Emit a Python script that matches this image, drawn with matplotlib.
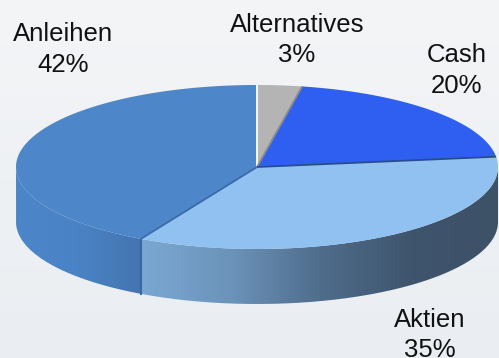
import numpy as np
import matplotlib.pyplot as plt
from matplotlib.path import Path
from matplotlib.patches import PathPatch, Polygon
from matplotlib.colors import LinearSegmentedColormap

# daten des diagramms
labels = ['Alternatives', 'Cash', 'Aktien', 'Anleihen']
values = [3, 20, 35, 42]
pct_labels = ['3%', '20%', '35%', '42%']

# farben (oben / seite, seite von links nach rechts)
top_colors = ['#b4b4b4', '#2f5ff0', '#90c1f1', '#4e87c9']
side_colors = {
    'Aktien': ['#7aa8d2', '#6c93ba', '#4f6d8c', '#3f556d', '#3d5167'],
    'Anleihen': ['#4c86c9', '#4a83c5', '#4574b0'],
}
edge_colors = ['#ffffff', '#8a8a8a', '#2a4c8c', '#3a6aa8']

# position der beschriftungen (mitte x, grundlinie y) in pixeln
label_xy = {'Alternatives': (297, 32, 62), 'Cash': (457, 62, 93),
            'Aktien': (430, 327, 357), 'Anleihen': (63, 41, 72)}

# geometrie des 3d kuchens
cx, cy, a, b, depth = 257, 167, 241, 82, 55

W, H = 499, 358
fig = plt.figure(figsize=(W / 100, H / 100), dpi=100)
ax = fig.add_axes([0, 0, 1, 1])
ax.set_xlim(0, W)
ax.set_ylim(H, 0)
ax.axis('off')

# hintergrund verlauf
bg = LinearSegmentedColormap.from_list('bg', ['#f4f5f7', '#eef1f4', '#eaeef2'])
ax.imshow(np.linspace(0, 1, 200).reshape(-1, 1), extent=[0, W, H, 0],
          cmap=bg, aspect='auto', zorder=0)


def top_pt(t):
    return cx + a * np.sin(t), cy - b * np.cos(t)


# winkel der stuecke (im uhrzeigersinn ab oben)
bounds = np.concatenate([[0], np.cumsum(values)]) / sum(values) * 2 * np.pi

# seitenflaechen (nur vorne sichtbar: 90..270 grad)
for i, lab in enumerate(labels):
    t1 = max(bounds[i], np.pi / 2)
    t2 = min(bounds[i + 1], 3 * np.pi / 2)
    if t2 <= t1:
        continue
    t = np.linspace(t1, t2, 200)
    xs, ys = top_pt(t)
    px = np.concatenate([xs, xs[::-1]])
    py = np.concatenate([ys, ys[::-1] + depth])
    path = Path(np.column_stack([px, py]), closed=False)
    patch = PathPatch(path, facecolor='none', edgecolor='none')
    ax.add_patch(patch)
    cmap = LinearSegmentedColormap.from_list(lab, side_colors[lab])
    grad = np.linspace(0, 1, 256).reshape(1, -1)
    im = ax.imshow(grad, extent=[px.min(), px.max(), py.max(), py.min()],
                   cmap=cmap, aspect='auto', zorder=1)
    im.set_clip_path(patch)

# kante zwischen seitenflaechen
for tb in bounds[1:-1]:
    if np.pi / 2 < tb < 3 * np.pi / 2:
        x0, y0 = top_pt(tb)
        ax.plot([x0, x0], [y0, y0 + depth], color='#3a66a2', lw=1.5, zorder=2)

# oberseite
for i, lab in enumerate(labels):
    t = np.linspace(bounds[i], bounds[i + 1], 200)
    xs, ys = top_pt(t)
    poly = Polygon(np.column_stack([np.r_[cx, xs], np.r_[cy, ys]]),
                   closed=True, facecolor=top_colors[i], edgecolor='none', zorder=3)
    ax.add_patch(poly)

# trennlinien oben
for i, tb in enumerate(bounds[:-1]):
    x0, y0 = top_pt(tb)
    ax.plot([cx, x0], [cy, y0], color=edge_colors[i], lw=1.3, zorder=4,
            solid_capstyle='butt')

# beschriftungen
for lab, pct in zip(labels, pct_labels):
    x, y1, y2 = label_xy[lab]
    ax.text(x, y1, lab, ha='center', va='baseline', fontsize=18.5,
            family='Liberation Sans', color='#111111', zorder=5)
    ax.text(x, y2, pct, ha='center', va='baseline', fontsize=18.5,
            family='Liberation Sans', color='#111111', zorder=5)

fig.savefig('out.png', dpi=100)
